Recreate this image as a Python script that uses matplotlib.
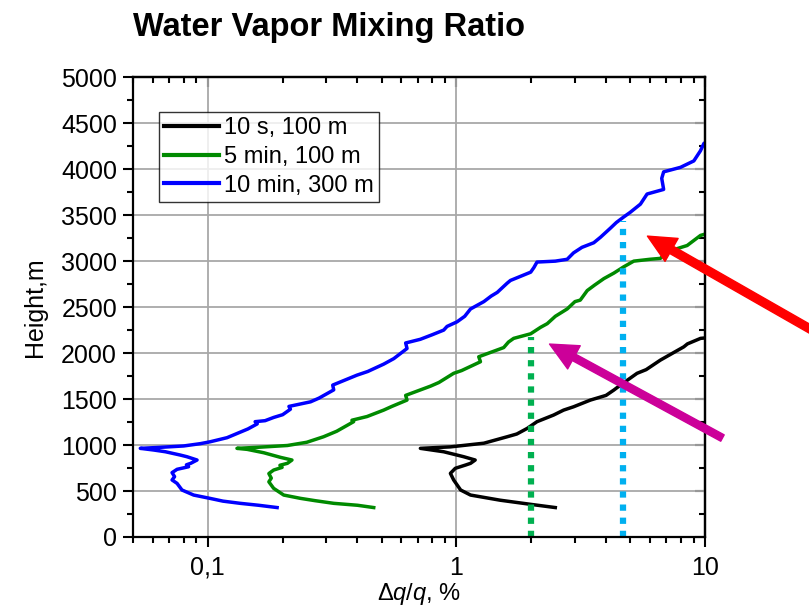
import matplotlib
matplotlib.use("Agg")
import matplotlib.pyplot as plt
from matplotlib.ticker import FixedLocator, FixedFormatter, MultipleLocator, LogLocator, NullFormatter

plt.rcParams['font.family'] = ['Liberation Sans', 'DejaVu Sans']
plt.rcParams['mathtext.fontset'] = 'custom'
plt.rcParams['mathtext.it'] = 'Liberation Sans:italic'
plt.rcParams['mathtext.rm'] = 'Liberation Sans'

# curves: (dq/q in %, height in m), bottom to top
blue_x = [0.190, 0.160, 0.135, 0.115, 0.102, 0.0877, 0.0787, 0.0752, 0.0718, 0.0735, 0.0718,
          0.0752, 0.0837, 0.0820, 0.0853, 0.0905, 0.0824, 0.0775, 0.0675, 0.0605, 0.0535,
          0.0644, 0.080, 0.0933, 0.102, 0.1195, 0.135, 0.145, 0.158, 0.155, 0.170, 0.184,
          0.200, 0.215, 0.212, 0.259, 0.280, 0.321, 0.318, 0.398, 0.440, 0.510, 0.560,
          0.633, 0.625, 0.716, 0.800, 0.889, 0.917, 1.006, 1.08, 1.14, 1.29, 1.38, 1.46,
          1.60, 1.65, 1.99, 2.05, 2.11, 2.50, 2.79, 2.96, 3.20, 3.57, 3.80, 4.17, 4.40,
          4.71, 5.0, 5.50, 5.85, 6.82, 6.70, 6.82, 7.97, 9.02, 9.59, 9.9, 10.5]
blue_y = [320, 345, 366, 390, 420, 456, 511, 583, 620, 656, 700,
          736, 764, 785, 801, 837, 873, 891, 927, 946, 964,
          975, 990, 1015, 1035, 1080, 1140, 1175, 1230, 1254, 1265, 1300,
          1330, 1390, 1420, 1470, 1510, 1600, 1652, 1760, 1800, 1880, 1940,
          2050, 2110, 2150, 2200, 2250, 2290, 2340, 2400, 2480, 2560, 2620, 2660,
          2760, 2790, 2880, 2930, 2990, 3000, 3020, 3090, 3150, 3200, 3260, 3360, 3420,
          3480, 3530, 3620, 3730, 3780, 3900, 3971, 4020, 4090, 4200, 4280, 4320]

green_x = [0.465, 0.40, 0.321, 0.27, 0.236, 0.202, 0.184, 0.176, 0.180, 0.176, 0.184,
           0.199, 0.195, 0.209, 0.218, 0.196, 0.168, 0.144, 0.131, 0.158, 0.209, 0.25,
           0.292, 0.33, 0.386, 0.38, 0.437, 0.510, 0.55, 0.633, 0.625, 0.786, 0.85, 0.975,
           1.05, 1.25, 1.23, 1.55, 1.62, 1.70, 1.99, 2.18, 2.32, 2.50, 2.79, 3.0, 3.15,
           3.36, 3.60, 3.92, 4.30, 4.71, 5.17, 6.0, 6.62, 7.04, 7.60, 8.48, 9.6, 10.5]
green_y = [320, 345, 366, 395, 420, 456, 529, 600, 640, 690, 728,
           757, 780, 801, 837, 866, 916, 953, 964, 975, 995, 1030,
           1090, 1150, 1254, 1270, 1310, 1380, 1420, 1489, 1540, 1640, 1680, 1780,
           1810, 1906, 1960, 2060, 2120, 2160, 2210, 2280, 2320, 2400, 2480, 2560, 2576,
           2680, 2740, 2810, 2870, 2938, 3000, 3020, 3030, 3100, 3130, 3170, 3280, 3310]

black_x = [2.50, 1.99, 1.50, 1.14, 1.04, 0.975, 0.946, 0.99, 1.09, 1.14, 1.19, 1.07,
           0.889, 0.716, 0.946, 1.29, 1.60, 1.75, 1.93, 2.11, 2.46, 2.70, 2.96, 3.46,
           4.0, 4.30, 4.57, 5.33, 5.8, 6.62, 8.22, 8.5, 9.6, 10.5]
black_y = [320, 355, 400, 456, 511, 620, 692, 747, 783, 801, 837, 873,
           927, 964, 980, 1020, 1090, 1120, 1182, 1254, 1326, 1380, 1416, 1489,
           1540, 1598, 1652, 1780, 1820, 1924, 2068, 2100, 2160, 2170]

labels = ['10 s, 100 m', '5 min, 100 m', '10 min, 300 m']

# dotted markers and arrows
green_mark_x = 2.0
green_mark_top = 2180
cyan_mark_x = 4.7
cyan_mark_top = 3440
red_tip = (5.87, 3272)
red_tail = (38.5, 2011)
magenta_tip = (2.37, 2098)
magenta_tail = (11.76, 1076)

fig = plt.figure(figsize=(8.09, 6.13), dpi=100)
ax = fig.add_axes([0.1644, 0.124, 0.707, 0.750])

ax.plot(black_x, black_y, color='black', lw=2.5, label=labels[0])
ax.plot(green_x, green_y, color='#008a00', lw=2.5, label=labels[1])
ax.plot(blue_x, blue_y, color='#0000ff', lw=2.5, label=labels[2])

ax.plot([green_mark_x, green_mark_x], [0, green_mark_top], color='#00b050', lw=4.5,
        linestyle=(0, (1, 1.1)), solid_capstyle='butt', dash_capstyle='butt')
ax.plot([cyan_mark_x, cyan_mark_x], [0, cyan_mark_top], color='#00b0f0', lw=4.5,
        linestyle=(0, (1, 1.1)), solid_capstyle='butt', dash_capstyle='butt')

ax.set_xscale('log')
ax.set_xlim(0.05, 10)
ax.set_ylim(0, 5000)

ax.xaxis.set_major_locator(FixedLocator([0.1, 1, 10]))
ax.xaxis.set_major_formatter(FixedFormatter(['0,1', '1', '10']))
ax.xaxis.set_minor_locator(LogLocator(base=10, subs=range(2, 10)))
ax.xaxis.set_minor_formatter(NullFormatter())
ax.yaxis.set_major_locator(MultipleLocator(500))
ax.yaxis.set_minor_locator(MultipleLocator(250))

ax.grid(True, which='major', color='#a8a8a8', lw=1.3)
ax.set_axisbelow(True)

for s in ax.spines.values():
    s.set_linewidth(1.6)

ax.tick_params(which='both', direction='out', top=False, right=False, width=1.5)
ax.tick_params(which='major', length=7.5, labelsize=18, pad=4)
ax.tick_params(which='minor', length=4.5)
ax.tick_params(axis='x', which='major', pad=6)

# inward ticks on top and right
sec_x = ax.secondary_xaxis('top')
sec_x.xaxis.set_major_locator(FixedLocator([0.1, 1, 10]))
sec_x.xaxis.set_minor_locator(LogLocator(base=10, subs=range(2, 10)))
sec_x.xaxis.set_major_formatter(NullFormatter())
sec_x.xaxis.set_minor_formatter(NullFormatter())
sec_x.tick_params(which='both', direction='in', width=1.5)
sec_x.tick_params(which='major', length=7.5)
sec_x.tick_params(which='minor', length=4.5)
sec_x.spines['top'].set_linewidth(1.6)

sec_y = ax.secondary_yaxis('right')
sec_y.yaxis.set_major_locator(MultipleLocator(500))
sec_y.yaxis.set_minor_locator(MultipleLocator(250))
sec_y.yaxis.set_major_formatter(NullFormatter())
sec_y.tick_params(which='both', direction='in', width=1.5)
sec_y.tick_params(which='major', length=7.5)
sec_y.tick_params(which='minor', length=4.5)
sec_y.spines['right'].set_linewidth(1.6)

ax.set_xlabel(r'$\Delta q/q$, %', fontsize=17, labelpad=1)
ax.set_ylabel('Height,m', fontsize=18, labelpad=10)

fig.text(0.1644, 0.955, 'Water Vapor Mixing Ratio', fontsize=23.5, fontweight='bold',
         ha='left', va='center')

leg = ax.legend(loc='upper left', bbox_to_anchor=(0.0455, 0.924), borderaxespad=0,
                fontsize=17, frameon=True, fancybox=False, handlelength=2.3,
                handletextpad=0.25, labelspacing=0.28, borderpad=0.22)
leg.get_frame().set_edgecolor('black')
leg.get_frame().set_linewidth(1.0)
for line in leg.get_lines():
    line.set_linewidth(3)

ax.annotate('', xy=red_tip, xytext=red_tail, annotation_clip=False,
            arrowprops=dict(arrowstyle='simple,head_length=20,head_width=19,tail_width=5.8',
                            mutation_scale=1, color='#ff0000', shrinkA=0, shrinkB=0))
ax.annotate('', xy=magenta_tip, xytext=magenta_tail, annotation_clip=False,
            arrowprops=dict(arrowstyle='simple,head_length=20,head_width=19,tail_width=5.2',
                            mutation_scale=1, color='#cc0099', shrinkA=0, shrinkB=0))

fig.savefig('out.png', dpi=100)
